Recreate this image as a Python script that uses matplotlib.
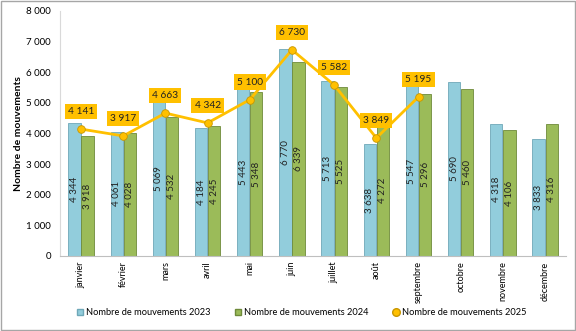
import matplotlib
matplotlib.use("Agg")
import matplotlib.pyplot as plt
import numpy as np
from matplotlib.lines import Line2D
from matplotlib.patches import Patch

months = ["janvier", "février", "mars", "avril", "mai", "juin", "juillet", "août",
          "septembre", "octobre", "novembre", "décembre"]
v2023 = [4344, 4061, 5069, 4184, 5443, 6770, 5713, 3638, 5547, 5690, 4318, 3833]
v2024 = [3918, 4028, 4532, 4245, 5348, 6339, 5525, 4272, 5296, 5460, 4106, 4316]
v2025 = [4141, 3917, 4663, 4342, 5100, 6730, 5582, 3849, 5195]
yticks = [0, 1000, 2000, 3000, 4000, 5000, 6000, 7000, 8000]

def fmt(v):
    return f"{v:,}".replace(",", " ")

plt.rcParams['font.family'] = ['Lato', 'DejaVu Sans']
fig = plt.figure(figsize=(5.76, 3.31), dpi=100)
ax = fig.add_axes([0.104, 0.227, 0.879, 0.740])

x = np.arange(len(months))
w = 0.29
c23 = "#92CDDC"
c24 = "#9BBB59"
ax.bar(x - w/2 - 0.01, v2023, w, color=c23, edgecolor="#6FA8B8", linewidth=0.6, zorder=2)
ax.bar(x + w/2 + 0.01, v2024, w, color=c24, edgecolor="#6E8A3A", linewidth=0.6, zorder=2)

for xi, v in zip(x - w/2 - 0.01, v2023):
    ax.text(xi, v/2, fmt(v), rotation=90, ha="center", va="center", fontsize=7, color="#222222", zorder=3)
for xi, v in zip(x + w/2 + 0.01, v2024):
    ax.text(xi, v/2, fmt(v), rotation=90, ha="center", va="center", fontsize=7, color="#222222", zorder=3)

x25 = x[:len(v2025)]
ax.plot(x25, v2025, color="#FFC000", linewidth=2, marker="o", markersize=5.5,
        markerfacecolor="#FFC000", markeredgecolor="#C89600", markeredgewidth=0.6, zorder=4)
for xi, v in zip(x25, v2025):
    ax.annotate(fmt(v), (xi, v), xytext=(0, 9.5), textcoords="offset points",
                ha="center", va="bottom", fontsize=7.3, color="#222222",
                bbox=dict(boxstyle="square,pad=0.3", facecolor="#FFC000", edgecolor="none"), zorder=5)

ax.set_xlim(-0.5, len(months) - 0.5)
ax.set_ylim(0, 8000)
ax.set_yticks(yticks)
ax.set_yticklabels([fmt(t) for t in yticks], fontsize=7)
ax.set_xticks(x)
ax.set_xticklabels(months, rotation=90, fontsize=6.5)
ax.tick_params(axis="y", length=0, pad=6.5)
ax.tick_params(axis="x", length=0, pad=4)
for s in ["top", "right"]:
    ax.spines[s].set_visible(False)
ax.spines["left"].set_color("#D9D9D9")
ax.spines["bottom"].set_color("#BFBFBF")
ax.set_ylabel("Nombre de mouvements", fontsize=7.5, fontweight="bold", labelpad=2)

handles = [Patch(facecolor=c23, edgecolor="#6FA8B8"),
           Patch(facecolor=c24, edgecolor="#6E8A3A"),
           Line2D([], [], color="none", marker="o", markerfacecolor="#FFC000",
                  markeredgecolor="#C89600", markersize=5.5)]
labels = ["Nombre de mouvements 2023", "Nombre de mouvements 2024", "Nombre de mouvements 2025"]
fig.legend(handles, labels, loc="center", bbox_to_anchor=(0.524, 0.055), ncol=3, frameon=False,
           fontsize=6.7, handlelength=0.7, handleheight=0.7, handletextpad=0.3, columnspacing=2.6)

fig.patches.append(plt.Rectangle((0.001, 0.002), 0.997, 0.995, transform=fig.transFigure,
                                 fill=False, edgecolor="#A6A6A6", linewidth=1))
fig.savefig("out.png", dpi=100)
